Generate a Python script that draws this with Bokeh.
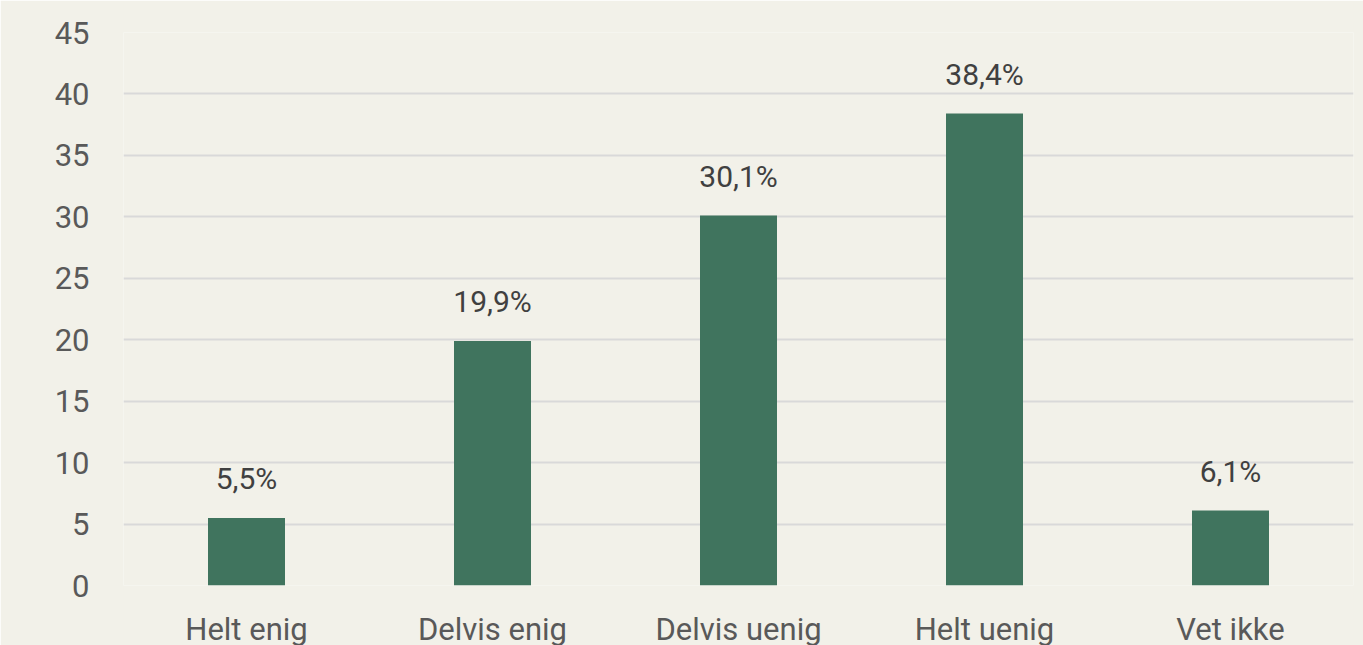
import re
from bokeh.plotting import figure
from bokeh.models import Range1d, FactorRange, ColumnDataSource, FixedTicker
from bokeh.core.properties import value
from bokeh.embed import file_html
from bokeh.resources import INLINE

categories = ["Helt enig", "Delvis enig", "Delvis uenig", "Helt uenig", "Vet ikke"]
values = [5.5, 19.9, 30.1, 38.4, 6.1]
labels = ["5,5%", "19,9%", "30,1%", "38,4%", "6,1%"]
y_ticks = [0, 5, 10, 15, 20, 25, 30, 35, 40, 45]

BG = "#f2f1e9"
FONT = "Roboto"

src = ColumnDataSource(dict(cat=categories, val=values, lab=labels))

p = figure(x_range=FactorRange(*categories), y_range=Range1d(0, 45),
           width=1363, height=650, output_backend="svg", toolbar_location=None,
           background_fill_color=BG, border_fill_color=BG,
           min_border_left=123, min_border_top=32, min_border_right=10, min_border_bottom=30)
p.outline_line_color = None
p.x_range.range_padding = 0

p.vbar(x="cat", top="val", width=0.313, source=src, fill_color="#40745e", line_color=None)
p.text(x="cat", y="val", text="lab", source=src, text_align="center", text_baseline="alphabetic",
       y_offset=-39, text_font=value(FONT), text_font_size="30px", text_color="#404040")

p.xgrid.grid_line_color = None
p.ygrid.grid_line_color = "#d9d9d9"
p.ygrid.grid_line_width = 2
p.yaxis.ticker = FixedTicker(ticks=y_ticks)

for ax in (p.xaxis[0], p.yaxis[0]):
    ax.axis_line_color = None
    ax.major_tick_line_color = None
    ax.minor_tick_line_color = None
    ax.major_label_text_font = FONT
    ax.major_label_text_font_size = "31px"
    ax.major_label_text_color = "#595959"
p.yaxis.major_label_standoff = 28
p.xaxis.major_label_standoff = 19

html = file_html(p, INLINE)
html = re.sub(r"<body([^>]*)>", r'<body\1 style="background:%s;margin:0;overflow:hidden">' % BG, html, count=1)
open("out.html", "w").write(html)
